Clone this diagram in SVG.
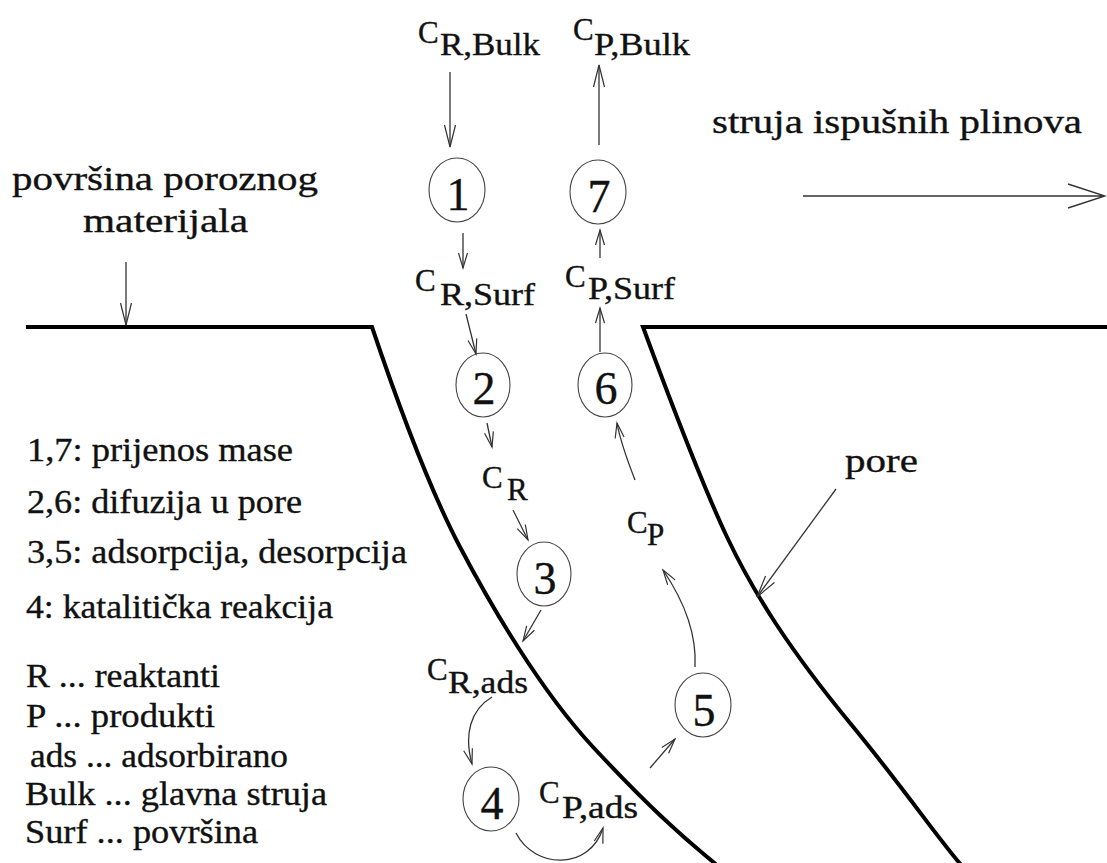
<svg xmlns="http://www.w3.org/2000/svg" width="1107" height="863" viewBox="0 0 1107 863">
<style>
.t{font-family:'Liberation Serif','Times New Roman',serif;fill:#111;stroke:#111;stroke-width:0.35;}
.lbl{font-size:31px;}
.big{font-size:34px;}
.leg{font-size:33px;}
.dig{font-size:46px;text-anchor:middle;}
.node ellipse{fill:none;stroke:#444;stroke-width:1.1;}
.wall{fill:none;stroke:#000;stroke-width:4;stroke-linejoin:miter;}
.arr{fill:none;stroke:#333;stroke-width:1.3;marker-end:url(#ah);}
.arrl{fill:none;stroke:#333;stroke-width:1.3;marker-end:url(#ahl);}
</style>
<defs>
<marker id="ah" viewBox="-18 -7 20 14" refX="0" refY="0" markerWidth="20" markerHeight="14" markerUnits="userSpaceOnUse" orient="auto">
<path d="M-15,-4.5 L0,0 L-15,4.5" fill="none" stroke="#333" stroke-width="1.2"/>
</marker>
<marker id="ahl" viewBox="-24 -8 26 16" refX="0" refY="0" markerWidth="26" markerHeight="16" markerUnits="userSpaceOnUse" orient="auto">
<path d="M-22,-5.5 L0,0 L-22,5.5" fill="none" stroke="#333" stroke-width="1.2"/>
</marker>
</defs>
<rect width="1107" height="863" fill="#fff"/>

<g id="surface">
<path class="wall" d="M26,327 L372,327 C400,410 430,490 460,547 S540,690 593,747 S680,835 718,866"/>
<path class="wall" d="M1107,327 L643,327 C670,400 700,480 727,537 S790,650 850,723 S935,835 962,866"/>
</g>

<g id="labels">
<text class="t big" x="12" y="190" textLength="306" lengthAdjust="spacingAndGlyphs">površina poroznog</text>
<text class="t big" x="83" y="232" textLength="165" lengthAdjust="spacingAndGlyphs">materijala</text>
<text class="t big" x="712" y="133" textLength="370" lengthAdjust="spacingAndGlyphs">struja ispušnih plinova</text>
<text class="t big" x="845" y="472" textLength="73" lengthAdjust="spacingAndGlyphs">pore</text>
</g>

<g id="legend">
<text class="t leg" x="27" y="461" textLength="266" lengthAdjust="spacingAndGlyphs">1,7: prijenos mase</text>
<text class="t leg" x="27" y="513" textLength="275" lengthAdjust="spacingAndGlyphs">2,6: difuzija u pore</text>
<text class="t leg" x="27" y="563" textLength="380" lengthAdjust="spacingAndGlyphs">3,5: adsorpcija, desorpcija</text>
<text class="t leg" x="26" y="618" textLength="307" lengthAdjust="spacingAndGlyphs">4: katalitička reakcija</text>
<text class="t leg" x="26" y="687" textLength="194" lengthAdjust="spacingAndGlyphs">R ... reaktanti</text>
<text class="t leg" x="26" y="727" textLength="189" lengthAdjust="spacingAndGlyphs">P ... produkti</text>
<text class="t leg" x="30" y="767" textLength="258" lengthAdjust="spacingAndGlyphs">ads ... adsorbirano</text>
<text class="t leg" x="25" y="805" textLength="302" lengthAdjust="spacingAndGlyphs">Bulk ... glavna struja</text>
<text class="t leg" x="25" y="843" textLength="233" lengthAdjust="spacingAndGlyphs">Surf ... površina</text>
</g>

<g id="concentrations">
<g id="c-r-bulk"><text class="t lbl" x="418" y="43">C</text><text class="t lbl" x="440" y="55" textLength="100" lengthAdjust="spacingAndGlyphs">R,Bulk</text></g>
<g id="c-p-bulk"><text class="t lbl" x="573" y="40">C</text><text class="t lbl" x="594" y="55" textLength="96" lengthAdjust="spacingAndGlyphs">P,Bulk</text></g>
<g id="c-r-surf"><text class="t lbl" x="415" y="291">C</text><text class="t lbl" x="440" y="305" textLength="95" lengthAdjust="spacingAndGlyphs">R,Surf</text></g>
<g id="c-p-surf"><text class="t lbl" x="565" y="287">C</text><text class="t lbl" x="588" y="299" textLength="87" lengthAdjust="spacingAndGlyphs">P,Surf</text></g>
<g id="c-r"><text class="t lbl" x="482" y="488">C</text><text class="t lbl" x="507" y="500">R</text></g>
<g id="c-p"><text class="t lbl" x="627" y="533">C</text><text class="t lbl" x="647" y="545">P</text></g>
<g id="c-r-ads"><text class="t lbl" x="427" y="680">C</text><text class="t lbl" x="448" y="693" textLength="80" lengthAdjust="spacingAndGlyphs">R,ads</text></g>
<g id="c-p-ads"><text class="t lbl" x="539" y="803">C</text><text class="t lbl" x="562" y="818" textLength="76" lengthAdjust="spacingAndGlyphs">P,ads</text></g>
</g>

<g id="n1" class="node"><ellipse cx="457" cy="190" rx="28" ry="32"/><text class="t dig" x="458" y="210">1</text></g>
<g id="n7" class="node"><ellipse cx="598" cy="192" rx="28" ry="32"/><text class="t dig" x="599" y="212">7</text></g>
<g id="n2" class="node"><ellipse cx="483" cy="385" rx="27" ry="32"/><text class="t dig" x="484" y="404">2</text></g>
<g id="n6" class="node"><ellipse cx="605" cy="385" rx="27" ry="32"/><text class="t dig" x="606" y="404">6</text></g>
<g id="n3" class="node"><ellipse cx="544" cy="574" rx="27" ry="32"/><text class="t dig" x="545" y="594">3</text></g>
<g id="n4" class="node"><ellipse cx="491" cy="799" rx="28" ry="32"/><text class="t dig" x="492" y="819">4</text></g>
<g id="n5" class="node"><ellipse cx="703" cy="705" rx="28" ry="32"/><text class="t dig" x="704" y="726">5</text></g>

<g id="connectors">
<path class="arrl" d="M450,72 L450,147"/>
<path class="arrl" d="M599,145 L599,65"/>
<path class="arr" d="M463,233 L463,268"/>
<path class="arr" d="M600,258 L600,230"/>
<path class="arr" d="M466,314 L476,354"/>
<path class="arr" d="M600,352 L600,308"/>
<path class="arr" d="M487,423 L492,447"/>
<path class="arr" d="M513,510 L528,540"/>
<path class="arr" d="M541,610 L523,641"/>
<path class="arr" d="M492,697 C470,710 464,735 472,764"/>
<path class="arr" d="M516,833 C535,870 590,870 603,828"/>
<path class="arr" d="M650,768 L675,739"/>
<path class="arr" d="M695,667 C697,630 682,598 663,570"/>
<path class="arr" d="M635,480 C628,462 620,440 617,423"/>
<path class="arrl" d="M836,489 L757,597"/>
<path class="arrl" d="M126,262 L126,325"/>
<path d="M803,196 L1105,196 M1068,184 L1105,196 L1068,208" fill="none" stroke="#333" stroke-width="1.4"/>
</g>
</svg>
